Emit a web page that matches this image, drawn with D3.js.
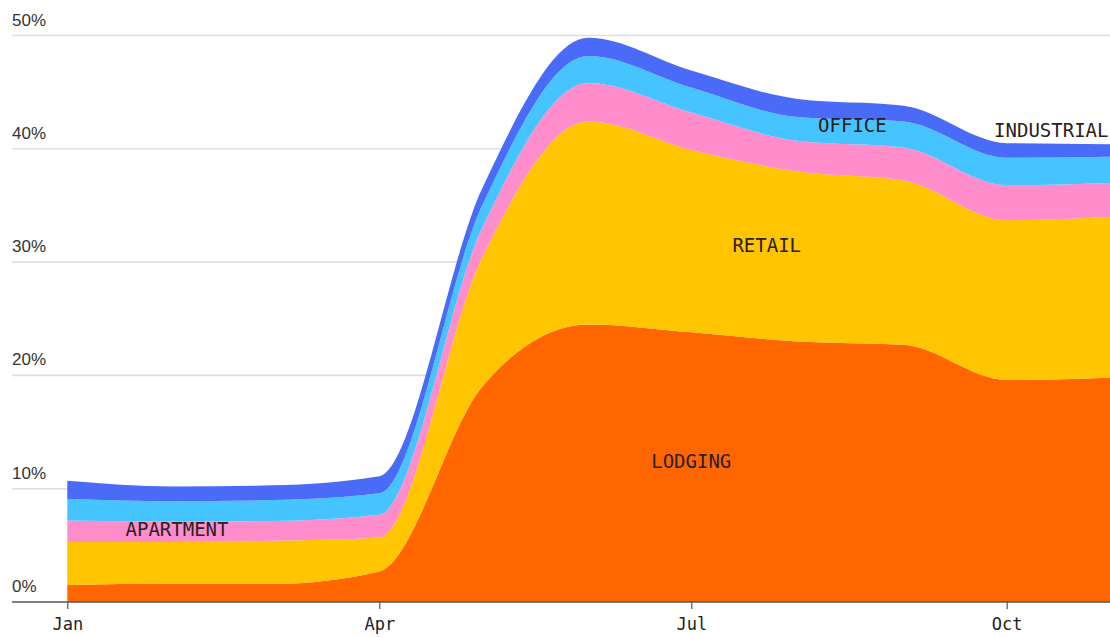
<!DOCTYPE html>
<html>
<head>
<meta charset="utf-8">
<script src="https://cdn.jsdelivr.net/npm/d3@7"></script>
<style>
  html, body { margin: 0; padding: 0; background: #fff; }
  svg { display: block; }
</style>
</head>
<body>
<svg id="chart" width="1110" height="637"></svg>
<script>
// ---- Data (share of loans, %) ----
const months = ["2020-01-01","2020-02-01","2020-03-01","2020-04-01","2020-05-01","2020-06-01",
                "2020-07-01","2020-08-01","2020-09-01","2020-10-01","2020-11-01"];
const lodging    = [1.5, 1.6, 1.6, 2.7, 19.0, 24.5, 23.8, 23.0, 22.7, 19.6, 19.8];
const retail     = [3.8, 3.7, 3.8, 3.0, 11.4, 17.9, 16.1, 15.0, 14.5, 14.1, 14.2];
const apartment  = [1.9, 1.8, 1.75, 2.0, 2.6, 3.4, 3.3, 2.7, 2.9, 3.1, 3.0];
const office     = [1.9, 1.8, 1.85, 1.9, 2.0, 2.4, 2.2, 2.1, 2.3, 2.4, 2.3];
const industrial = [1.6, 1.3, 1.3, 1.5, 1.5, 1.6, 1.5, 1.6, 1.4, 1.3, 1.1];
const seriesKeys = ["lodging", "retail", "apartment", "office", "industrial"];
const seriesNames = ["LODGING", "RETAIL", "APARTMENT", "OFFICE", "INDUSTRIAL"];
const yTicks = [0, 10, 20, 30, 40, 50];
const xTickMonths = ["2020-01-01", "2020-04-01", "2020-07-01", "2020-10-01"];
// label anchors (date, value) for in-chart annotations
const labelDates  = ["2020-07-01", "2020-07-23", "2020-02-02", "2020-08-17", "2020-10-14"];
const labelValues = [11.8, 30.9, 5.85, 41.5, 41.05];

// ---- Styles ----
const colors = {
  lodging: "#ff6600", retail: "#ffc500", apartment: "#ff8ccb",
  office: "#45c4ff", industrial: "#4a6bf8"
};
const W = 1110, H = 637;
const parse = d3.utcParse("%Y-%m-%d");

const table = months.map((m, i) => ({
  date: parse(m), lodging: lodging[i], retail: retail[i], apartment: apartment[i],
  office: office[i], industrial: industrial[i]
}));

const x = d3.scaleUtc()
  .domain([parse("2020-01-01"), parse("2020-10-01")])
  .range([67.3, 1006.7]);
const y = d3.scaleLinear().domain([0, 50]).range([602, 35.5]);

const svg = d3.select("#chart");

// gridlines
svg.append("g").selectAll("line")
  .data(yTicks.filter(d => d > 0))
  .join("line")
  .attr("x1", 12).attr("x2", W)
  .attr("y1", d => y(d)).attr("y2", d => y(d))
  .attr("stroke", "#dedede").attr("stroke-width", 1.6);

// stacked areas
const stack = d3.stack().keys(seriesKeys);
const layers = stack(table);
const area = d3.area()
  .x(d => x(d.data.date))
  .y0(d => y(d[0]))
  .y1(d => y(d[1]))
  .curve(d3.curveMonotoneX);

svg.append("g").selectAll("path")
  .data(layers)
  .join("path")
  .attr("d", area)
  .attr("fill", d => colors[d.key]);

// y tick labels
svg.append("g").selectAll("text")
  .data(yTicks)
  .join("text")
  .attr("x", 12)
  .attr("y", d => y(d) - 10)
  .attr("font-family", "'Liberation Sans', Arial, sans-serif")
  .attr("font-size", 17)
  .attr("fill", "#333")
  .text(d => d + "%");

// baseline
svg.append("line")
  .attr("x1", 12).attr("x2", W)
  .attr("y1", y(0)).attr("y2", y(0))
  .attr("stroke", "#555").attr("stroke-width", 1.5);

// x axis
const xAxis = d3.axisBottom(x)
  .tickValues(xTickMonths.map(parse))
  .tickFormat(d3.utcFormat("%b"))
  .tickSize(7)
  .tickPadding(9);
const gx = svg.append("g").attr("transform", `translate(0,${y(0)})`).call(xAxis);
gx.select(".domain").remove();
gx.selectAll(".tick line").attr("stroke", "#555").attr("stroke-width", 1.2);
gx.selectAll(".tick text")
  .attr("font-family", "'DejaVu Sans Mono', monospace")
  .attr("font-size", 17)
  .attr("fill", "#222");

// in-chart labels
svg.append("g").selectAll("text")
  .data(seriesNames)
  .join("text")
  .attr("x", (d, i) => x(parse(labelDates[i])))
  .attr("y", (d, i) => y(labelValues[i]))
  .attr("text-anchor", "middle")
  .attr("font-family", "'DejaVu Sans Mono', monospace")
  .attr("font-size", 19)
  .attr("fill", "#2a2020")
  .text(d => d);
</script>
</body>
</html>
